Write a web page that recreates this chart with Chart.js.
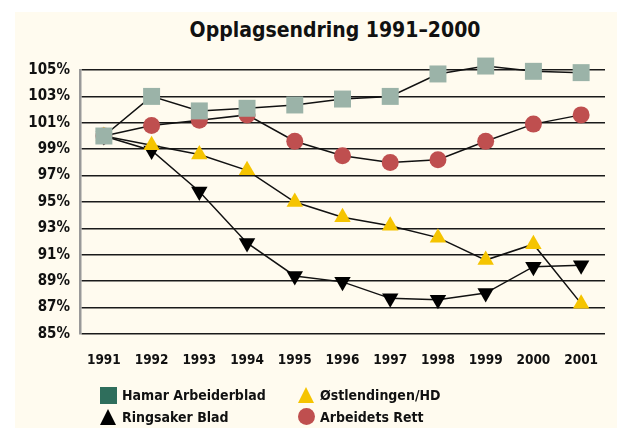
<!DOCTYPE html>
<html>
<head>
<meta charset="utf-8">
<script src="https://cdn.jsdelivr.net/npm/chart.js@4"></script>
<style>
  body { margin: 0; background: #fff; }
  #wrap { position: relative; width: 617px; height: 428px; overflow: hidden; }
  #bg { position: absolute; left: 15px; top: 12px; right: 0; bottom: 0; background: #fffbef; }
  #title { position: absolute; left: 0; width: 670px; top: 18px; text-align: center;
    font: bold 21px "DejaVu Sans Condensed", "DejaVu Sans", sans-serif; color: #111; }
  #chart { position: absolute; left: 0; top: 0; }
  .lg { position: absolute; font: bold 14px "DejaVu Sans Condensed", "DejaVu Sans", sans-serif; color: #111; line-height: 17px; }
  .mk { position: absolute; width: 17px; height: 17px; }
</style>
</head>
<body>
<div id="wrap">
  <div id="bg"></div>
  <div id="title">Opplagsendring 1991–2000</div>
  <canvas id="chart" width="617" height="428"></canvas>
  <div class="mk" style="left:100px;top:387px;background:#2f6e5c"></div>
  <div class="lg" style="left:122px;top:387px">Hamar Arbeiderblad</div>
  <div class="mk" style="left:298px;top:387px;width:0;height:0;border-left:8.5px solid transparent;border-right:8.5px solid transparent;border-bottom:16px solid #f5c400"></div>
  <div class="lg" style="left:320px;top:387px">Østlendingen/HD</div>
  <div class="mk" style="left:100px;top:409px;width:0;height:0;border-left:8.5px solid transparent;border-right:8.5px solid transparent;border-bottom:16px solid #000"></div>
  <div class="lg" style="left:122px;top:409px">Ringsaker Blad</div>
  <div class="mk" style="left:298px;top:408px;border-radius:50%;background:#bf4f4f"></div>
  <div class="lg" style="left:320px;top:409px">Arbeidets Rett</div>
</div>
<script>
const years = ['1991', '1992', '1993', '1994', '1995', '1996', '1997', '1998', '1999', '2000', '2001'];
const hamar = [100, 103.0, 101.9, 102.1, 102.35, 102.8, 103.0, 104.7, 105.3, 104.9, 104.8];
const ostlendingen = [100, 99.3, 98.6, 97.4, 95.0, 93.85, 93.2, 92.3, 90.6, 91.8, 87.3];
const ringsaker = [100, 98.9, 95.8, 91.9, 89.4, 88.95, 87.7, 87.6, 88.1, 90.1, 90.2];
const arbeidets = [100, 100.8, 101.2, 101.6, 99.6, 98.5, 98.0, 98.2, 99.6, 100.9, 101.6];

const font = { family: '"DejaVu Sans Condensed", "DejaVu Sans", sans-serif', weight: 'bold' };

function series(label, data, color, style, radius, rotation) {
    return {
        label: label,
        data: data,
        borderColor: '#111',
        borderWidth: 1.5,
        pointStyle: style,
        pointRadius: radius,
        pointRotation: rotation || 0,
        pointBackgroundColor: color,
        pointBorderWidth: 0,
        tension: 0,
        clip: false
    };
}

new Chart(document.getElementById('chart'), {
    type: 'line',
    data: {
        labels: years,
        datasets: [
            series('Hamar Arbeiderblad', hamar, '#9bb3a8', 'rect', 12),
            series('Østlendingen/HD', ostlendingen, '#f5c400', 'triangle', 9.5),
            series('Ringsaker Blad', ringsaker, '#000', 'triangle', 9.5, 180),
            series('Arbeidets Rett', arbeidets, '#bf4f4f', 'circle', 8.5)
        ]
    },
    options: {
        responsive: false,
        animation: false,
        events: [],
        layout: { padding: { left: 0, right: 9, top: 70, bottom: 64 } },
        plugins: { legend: { display: false }, tooltip: { enabled: false } },
        scales: {
            x: {
                offset: true,
                grid: { display: false },
                border: { display: false },
                ticks: { color: '#111', font: Object.assign({ size: 13.5 }, font), padding: 10, maxRotation: 0 },
                afterFit: function (s) { s.height = 30; }
            },
            y: {
                min: 85,
                max: 105,
                grid: { color: '#1a1a1a', lineWidth: 1.6, drawTicks: false },
                border: { color: '#999', width: 2.5 },
                ticks: {
                    stepSize: 2,
                    color: '#111',
                    padding: 10,
                    font: Object.assign({ size: 15 }, font),
                    callback: function (v) { return v + '%'; }
                },
                afterFit: function (s) { s.width = 80; }
            }
        }
    }
});
</script>
</body>
</html>
